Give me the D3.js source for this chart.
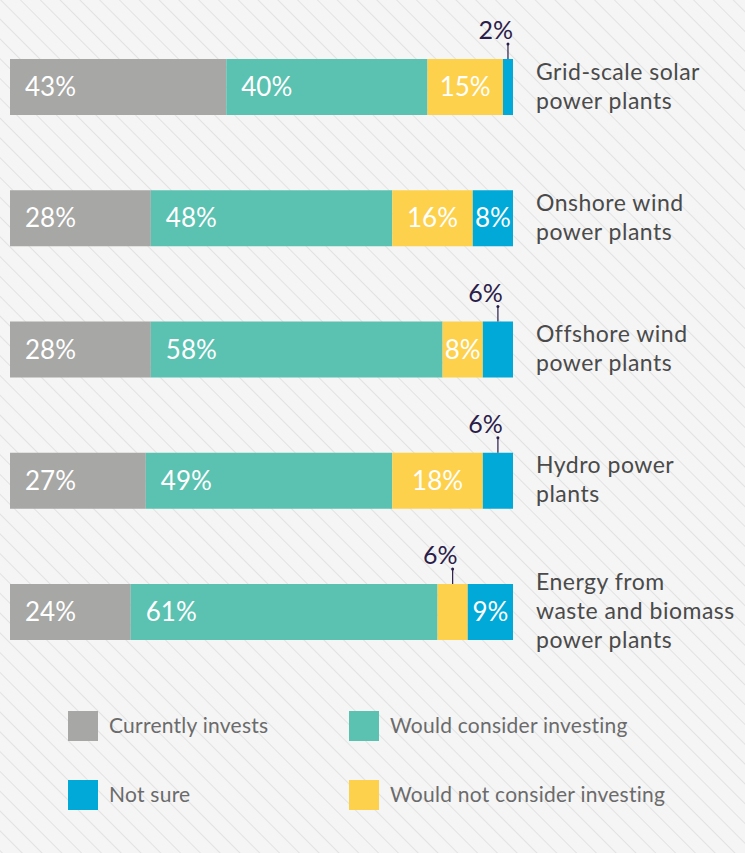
<!DOCTYPE html>
<html>
<head>
<meta charset="utf-8">
<script src="https://cdn.jsdelivr.net/npm/d3@7"></script>
<style>
  body { margin: 0; background: #f5f5f5; }
  svg { display: block; }
</style>
</head>
<body>
<div id="chart"></div>
<script>
// categories (label lines)
var categories = [
    ["Grid-scale solar", "power plants"],
    ["Onshore wind", "power plants"],
    ["Offshore wind", "power plants"],
    ["Hydro power", "plants"],
    ["Energy from", "waste and biomass", "power plants"]
];

// series, in stacking order
var seriesNames = ["Currently invests", "Would consider investing", "Would not consider investing", "Not sure"];
var currentlyInvests = [43, 28, 28, 27, 24];
var wouldConsider    = [40, 48, 58, 49, 61];
var wouldNot         = [15, 16, 8, 18, 6];
var notSure          = [2, 8, 6, 6, 9];

var legendOrder = ["Currently invests", "Would consider investing", "Not sure", "Would not consider investing"];

var colors = {
    "Currently invests": "#a7a7a5",
    "Would consider investing": "#5bc2b1",
    "Would not consider investing": "#fed14c",
    "Not sure": "#00a9d8"
};

var w = 745, h = 853;
var barH = 56;
var font = "Lato, 'Open Sans', sans-serif";

var svg = d3.select("#chart").append("svg")
    .attr("width", w)
    .attr("height", h);

// striped background
var defs = svg.append("defs");
var pat = defs.append("pattern")
    .attr("id", "stripes")
    .attr("patternUnits", "userSpaceOnUse")
    .attr("width", 14)
    .attr("height", 14)
    .attr("patternTransform", "rotate(-45)");
pat.append("rect").attr("width", 14).attr("height", 14).attr("fill", "#f5f5f5");
pat.append("line")
    .attr("x1", 0).attr("y1", 0).attr("x2", 0).attr("y2", 14)
    .attr("stroke", "#e2e2e2")
    .attr("stroke-width", 2);
svg.append("rect").attr("width", w).attr("height", h).attr("fill", "url(#stripes)");

var xScale = d3.scaleLinear().domain([0, 100]).range([10, 513]);
var yScale = d3.scalePoint().domain(d3.range(categories.length)).range([87, 612]);

var allSeries = [currentlyInvests, wouldConsider, wouldNot, notSure];
var rows = categories.map(function(c, i) {
    var row = { i: i, label: c };
    seriesNames.forEach(function(s, k) { row[s] = allSeries[k][i]; });
    return row;
});

var stack = d3.stack().keys(seriesNames);
var stacked = stack(rows);

var layers = svg.selectAll("g.layer")
    .data(stacked)
    .enter()
    .append("g")
    .attr("class", "layer")
    .attr("fill", function(d) { return colors[d.key]; });

layers.selectAll("rect")
    .data(function(d) { return d; })
    .enter()
    .append("rect")
    .attr("x", function(d) { return xScale(d[0]); })
    .attr("width", function(d) { return xScale(d[1]) - xScale(d[0]); })
    .attr("y", function(d) { return yScale(d.data.i) - barH / 2; })
    .attr("height", barH);

// value labels
stacked.forEach(function(layer, k) {
    layer.forEach(function(d) {
        var v = d[1] - d[0];
        var x0 = xScale(d[0]), x1 = xScale(d[1]);
        var cy = yScale(d.data.i);
        if (v <= 6) {
            // label above the bar with a small tick
            var tx = Math.min((x0 + x1) / 2, 508);
            var top = cy - barH / 2;
            svg.append("line")
                .attr("x1", tx).attr("x2", tx)
                .attr("y1", top - 15).attr("y2", top)
                .attr("stroke", "#2b1d4a")
                .attr("stroke-width", 1.2);
            svg.append("circle")
                .attr("cx", tx).attr("cy", top - 15)
                .attr("r", 1.5)
                .attr("fill", "#2b1d4a");
            svg.append("text")
                .attr("x", tx + 5)
                .attr("y", top - 20)
                .attr("text-anchor", "end")
                .attr("font-family", font)
                .attr("font-size", 25)
                .attr("fill", "#2b1d4a")
                .text(v + "%");
        } else {
            var left = k < 2;
            svg.append("text")
                .attr("x", left ? x0 + 15 : (x0 + x1) / 2)
                .attr("y", cy + 9)
                .attr("text-anchor", left ? "start" : "middle")
                .attr("font-family", font)
                .attr("font-size", 26)
                .attr("fill", "#ffffff")
                .text(v + "%");
        }
    });
});

// category labels
var lineH = 29;
rows.forEach(function(r) {
    var n = r.label.length;
    var first = yScale(r.i) - (n - 1) * lineH / 2 + 7;
    var t = svg.append("text")
        .attr("font-family", font)
        .attr("font-size", 23)
        .attr("letter-spacing", 0.5)
        .attr("fill", "#4a4a4a");
    r.label.forEach(function(line, j) {
        t.append("tspan")
            .attr("x", 536)
            .attr("y", first + j * lineH)
            .text(line);
    });
});

// legend
var legend = svg.selectAll("g.legend")
    .data(legendOrder)
    .enter()
    .append("g")
    .attr("class", "legend")
    .attr("transform", function(d, i) {
        return "translate(" + (i % 2 === 0 ? 68 : 349) + "," + (i < 2 ? 711 : 780) + ")";
    });
legend.append("rect")
    .attr("width", 30)
    .attr("height", 30)
    .attr("fill", function(d) { return colors[d]; });
legend.append("text")
    .attr("x", 41)
    .attr("y", 22)
    .attr("font-family", font)
    .attr("font-size", 21)
    .attr("letter-spacing", 0.25)
    .attr("fill", "#6b6b6b")
    .text(function(d) { return d; });
</script>
</body>
</html>
